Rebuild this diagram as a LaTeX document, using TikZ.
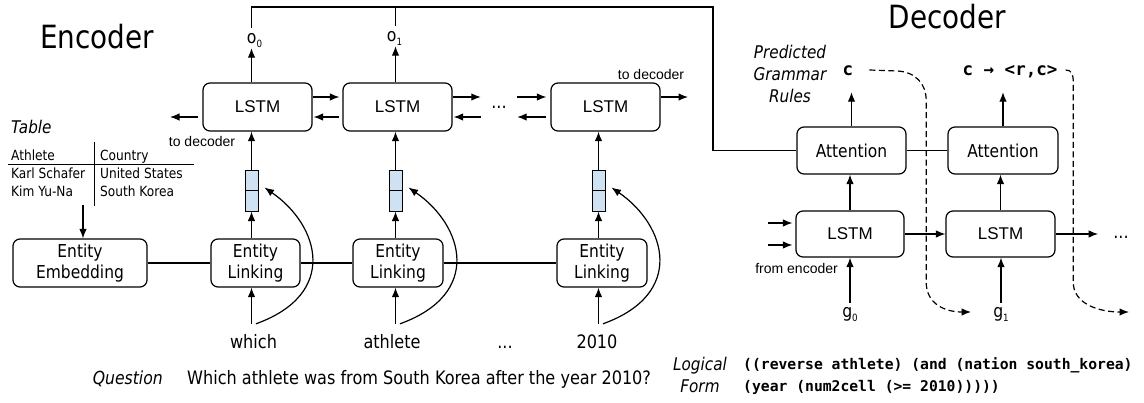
\documentclass[tikz,border=0pt]{standalone}
\usepackage{fontspec}
\usetikzlibrary{arrows.meta,calc}
\newfontfamily\tahfont[FakeStretch=0.87]{DejaVu Sans}
\newfontfamily\arifont{Liberation Sans}
\newfontfamily\codefont{DejaVu Sans Mono}
\newcommand\fsz[2]{\fontsize{#1}{#2}\selectfont}
\newcommand\lowidx[1]{\raisebox{-0.45ex}{\fsz{10}{10}#1}}
\definecolor{vecfill}{RGB}{207,226,243}
\tikzset{
  wire/.style={line width=1.2pt},
  arr/.style={wire,-{Latex[length=9.5pt,width=7.5pt]}},
  dasharr/.style={arr,dash pattern=on 6pt off 3.5pt},
  rbox/.style={draw,line width=1.2pt,rounded corners=7pt,inner sep=0pt,align=center},
  lstmbox/.style={rbox,minimum width=109pt,minimum height=48pt,font=\arifont\fsz{17}{20}},
  decbox/.style={rbox,minimum width=108pt,minimum height=46pt,font=\arifont\fsz{17}{20}},
  elbox/.style={rbox,minimum width=90pt,minimum height=48pt,font=\tahfont\fsz{17.8}{21.5}},
  attbox/.style={rbox,minimum width=109pt,minimum height=47pt,font=\tahfont\fsz{17.8}{21}},
  vecbox/.style={draw,fill=vecfill,line width=1pt,minimum width=13pt,minimum height=41pt,inner sep=0pt},
  word/.style={font=\tahfont\fsz{18.5}{22},text height=13pt,text depth=0pt,inner xsep=0pt,inner ysep=11pt,anchor=base},
  idxlbl/.style={font=\tahfont\fsz{18}{20},text height=10pt,text depth=0pt,inner xsep=0pt,anchor=base},
  smallnote/.style={font=\arifont\fsz{14}{16},inner sep=0pt},
  tblcell/.style={font=\tahfont\fsz{14}{18},inner sep=0pt,anchor=base west},
  italiclbl/.style={font=\tahfont\itshape\fsz{17.5}{22},inner sep=0pt},
  rulecode/.style={font=\codefont\bfseries\fsz{17.5}{20},text height=10pt,text depth=0pt,inner xsep=0pt,inner ysep=17pt,anchor=base},
  lfcode/.style={font=\codefont\bfseries\fsz{14.7}{21},inner sep=0pt,anchor=base west},
  heading/.style={font=\tahfont\fsz{32}{36},inner sep=0pt,anchor=base},
  dotslbl/.style={font=\tahfont\fsz{18.5}{22},inner sep=0pt},
}
\begin{document}
\begin{tikzpicture}[x=1pt,y=-1pt]
\path[fill=white,use as bounding box] (0,0) rectangle (1144,402);

% ---------------- Encoder ----------------
\node[heading,anchor=base west] (enc) at (40,48) {Encoder};

% table
\node[italiclbl,anchor=base west] (tblT) at (11,133) {Table};
\node[tblcell] (c11) at (11,160) {Athlete};
\node[tblcell] (c12) at (100,160) {Country};
\node[tblcell] (c21) at (11,178) {Karl Schafer};
\node[tblcell] (c22) at (100,178) {United States};
\node[tblcell] (c31) at (11,196) {Kim Yu-Na};
\node[tblcell] (c32) at (100,196) {South Korea};
\draw[line width=1pt] (8,164) -- (194,164);
\draw[line width=1pt] (94,142) -- (94,206);
\coordinate (tblFoot) at (83,205);

% entity boxes
\node[elbox,minimum width=134pt] (embed) at (80,263) {Entity\\Embedding};
\node[elbox,minimum width=89pt] (elA) at (255.5,263) {Entity\\Linking};
\node[elbox] (elB) at (398,263) {Entity\\Linking};
\node[elbox] (elC) at (602,263) {Entity\\Linking};
\draw[wire] (embed.east) -- (elA.west) (elA.east) -- (elB.west) (elB.east) -- (elC.west);
\draw[arr] (tblFoot) -- (tblFoot |- embed.north);

% entity vectors
\node[vecbox] (vecA) at (251.5,190.5) {};
\node[vecbox] (vecB) at (395.5,190.5) {};
\node[vecbox] (vecC) at (598.5,190.5) {};
\foreach \v in {vecA,vecB,vecC} \draw[line width=1pt] (\v.west) -- (\v.east);

% encoder LSTMs
\node[lstmbox] (lstmA) at (257.5,107) {LSTM};
\node[lstmbox] (lstmB) at (397.5,107) {LSTM};
\node[dotslbl,minimum width=36pt] (dotsE) at (499,107) {...};
\node[lstmbox] (lstmC) at (605.5,107) {LSTM};

\draw[arr,shorten >=3pt] ([yshift=10pt]lstmA.east) -- ([yshift=10pt]lstmB.west);
\draw[arr,shorten <=3pt,shorten >=1pt] ([yshift=-10pt]lstmB.west) -- ([yshift=-10pt]lstmA.east);
\draw[arr] ([yshift=10pt]lstmB.east) -- ([yshift=10pt]dotsE.west);
\draw[arr,shorten >=1pt] ([yshift=-10pt]dotsE.west) -- ([yshift=-10pt]lstmB.east);
\draw[arr,shorten >=4pt] ([yshift=10pt]dotsE.east) -- ([yshift=10pt]lstmC.west);
\draw[arr,shorten <=4pt] ([yshift=-10pt]lstmC.west) -- ([yshift=-10pt]dotsE.east);

\coordinate (outL) at (170,117);
\coordinate (outR) at (688,97);
\draw[arr,shorten <=4pt] ([yshift=-10pt]lstmA.west) -- (outL);
\draw[arr] ([yshift=10pt]lstmC.east) -- (outR);
\node[smallnote] (tdA) at (202,141) {to decoder};
\node[smallnote] (tdC) at (651,74) {to decoder};

% outputs
\node[idxlbl,inner ysep=5pt] (oA) at (254.5,43) {o\lowidx{0}};
\node[idxlbl,inner ysep=5pt] (oB) at (394.5,41) {o\lowidx{1}};

% words
\node[word] (wA) at (253.5,348) {which};
\node[word] (wB) at (392,348) {athlete};
\node[word] (wD) at (505,348) {...};
\node[word] (wC) at (597,348) {2010};

% vertical flow per column
\foreach \w/\e/\v/\l in {wA/elA/vecA/lstmA, wB/elB/vecB/lstmB, wC/elC/vecC/lstmC}{
  \draw[arr] (\v.south |- \w.north) -- (\v.south |- \e.south);
  \draw[arr] (\v.south |- \e.north) -- (\v.south);
  \draw[arr] (\v.north) -- (\v.north |- \l.south);
  \draw[arr] ($(\v.south |- \w.north)+(4.5,0)$) .. controls +(83,-30) and +(55,38) .. ($(\v.east)+(6,-3)$);
}
\draw[arr] (vecA.north |- lstmA.north) -- (vecA.north |- oA.south);
\draw[arr] (vecB.north |- lstmB.north) -- (vecB.north |- oB.south);

% question
\node[italiclbl,anchor=base east,font=\tahfont\itshape\fsz{18}{22}] (qlbl) at (163,384) {Question};
\node[inner sep=0pt,anchor=base west,font=\tahfont\fsz{18.5}{22}] (qtext) at (187,384) {Which athlete was from South Korea after the year 2010?};

% ---------------- Decoder ----------------
\node[heading] (dec) at (947.5,28) {Decoder};

\node[attbox] (att1) at (851.5,150.5) {Attention};
\node[attbox,minimum width=110pt] (att2) at (1003,150.5) {Attention};
\node[decbox] (ld1) at (850,234) {LSTM};
\node[decbox,minimum width=109pt] (ld2) at (1000.5,234) {LSTM};
\node[dotslbl,anchor=base] (dotsD) at (1121,238) {...};

% encoder states feed the attention
\coordinate (busCorner) at (713,7);
\draw[wire] (vecA.north |- oA.north) |- (busCorner) |- (att1.west);
\draw[wire] (vecB.north |- oB.north) -- (vecB.north |- busCorner);

\draw[wire] (att1.east) -- (att2.west);
\draw[arr] (ld1.north) -- (ld1.north |- att1.south);
\draw[arr] (ld2.north) -- (ld2.north |- att2.south);
\draw[arr] (ld1.east) -- (ld2.west);
\draw[arr,shorten >=15pt] (ld2.east) -- (ld2.east -| dotsD.west);

\coordinate (encIn1) at (768,223);
\coordinate (encIn2) at (768,245);
\draw[arr,shorten >=3pt] (encIn1) -- (encIn1 -| ld1.west);
\draw[arr,shorten >=3pt] (encIn2) -- (encIn2 -| ld1.west);
\node[smallnote,anchor=east] (fromenc) at (838,268) {from encoder};

\node[idxlbl,inner ysep=4pt] (g0) at (850,317) {g\lowidx{0}};
\node[idxlbl,inner ysep=4pt] (g1) at (1001,317) {g\lowidx{1}};
\draw[arr] (g0.north) -- (g0.north |- ld1.south);
\draw[arr] (g1.north) -- (g1.north |- ld2.south);

% predicted rules
\node[italiclbl,align=center] (pgr) at (790,74) {Predicted\\Grammar\\Rules};
\node[rulecode] (r0) at (848,75) {c};
\node[rulecode] (r1) at (1010,75) {c → <r,c>};
\draw[arr] (att1.north) -- (att1.north |- r0.south);
\draw[arr] (att2.north) -- (att2.north |- r1.south);

% each predicted rule is fed back as the next input
\coordinate (nextIn) at (1129,312);
\draw[dasharr] ($(r0.east)+(16,0)$) -- ++(28,1)
  .. controls +(18,1) and +(0,-16) .. ++(28.7,29) -- ++(0,182)
  .. controls +(0,22) and +(-26,0) .. ($(g1.west)+(-22,0)$);
\draw[dasharr] ($(r1.east)+(8,0)$)
  .. controls +(6,0) and +(0,-8) .. ++(7.6,12) -- ++(0,200)
  .. controls +(0,22) and +(-30,0) .. (nextIn);

% logical form
\node[italiclbl,anchor=base] (lfA) at (700,370) {Logical};
\node[italiclbl,anchor=base] (lfB) at (700,392) {Form};
\node[lfcode] (lfc1) at (743,369) {((reverse athlete) (and (nation south\_korea)};
\node[lfcode] (lfc2) at (743,391) {(year (num2cell (>= 2010)))))};
\end{tikzpicture}
\end{document}
